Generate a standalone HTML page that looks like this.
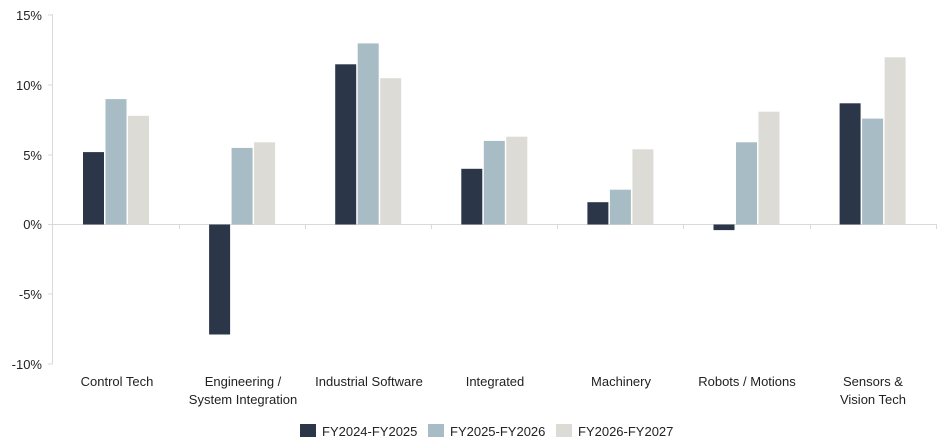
<!DOCTYPE html>
<html><head><meta charset="utf-8"><style>
html,body{margin:0;padding:0;background:#fff;}
svg{display:block;font-family:"Liberation Sans",Arial,sans-serif;}
</style></head><body>
<svg width="945" height="448" viewBox="0 0 945 448" xmlns="http://www.w3.org/2000/svg">
<g font-size="13" fill="#222" text-anchor="end">
<text x="42" y="20">15%</text>
<text x="42" y="90">10%</text>
<text x="42" y="160">5%</text>
<text x="42" y="229">0%</text>
<text x="42" y="299">-5%</text>
<text x="42" y="369">-10%</text>
</g>
<line x1="52.5" y1="14" x2="52.5" y2="364" stroke="#d9d9d9" stroke-width="1"/>
<g stroke="#d9d9d9" stroke-width="1">
<line x1="48" y1="15" x2="52.5" y2="15"/>
<line x1="48" y1="85" x2="52.5" y2="85"/>
<line x1="48" y1="155" x2="52.5" y2="155"/>
<line x1="48" y1="224.5" x2="52.5" y2="224.5"/>
<line x1="48" y1="294" x2="52.5" y2="294"/>
<line x1="48" y1="364" x2="52.5" y2="364"/>
<line x1="52.5" y1="224.5" x2="937" y2="224.5"/>
<line x1="179.5" y1="224.5" x2="179.5" y2="229"/>
<line x1="305.5" y1="224.5" x2="305.5" y2="229"/>
<line x1="431.5" y1="224.5" x2="431.5" y2="229"/>
<line x1="557.5" y1="224.5" x2="557.5" y2="229"/>
<line x1="683.5" y1="224.5" x2="683.5" y2="229"/>
<line x1="810.5" y1="224.5" x2="810.5" y2="229"/>
<line x1="936.5" y1="224.5" x2="936.5" y2="229"/>
</g>
<g fill="#2b3649">
<rect x="83.0" y="152.1" width="21" height="72.4"/>
<rect x="209.1" y="224.5" width="21" height="110.0"/>
<rect x="335.2" y="64.3" width="21" height="160.2"/>
<rect x="461.3" y="168.8" width="21" height="55.7"/>
<rect x="587.4" y="202.2" width="21" height="22.3"/>
<rect x="713.5" y="224.5" width="21" height="5.6"/>
<rect x="839.6" y="103.3" width="21" height="121.2"/>
</g>
<g fill="#a7bcc5">
<rect x="105.5" y="99.1" width="21" height="125.4"/>
<rect x="231.6" y="147.9" width="21" height="76.6"/>
<rect x="357.7" y="43.4" width="21" height="181.1"/>
<rect x="483.8" y="140.9" width="21" height="83.6"/>
<rect x="609.9" y="189.7" width="21" height="34.8"/>
<rect x="736.0" y="142.3" width="21" height="82.2"/>
<rect x="862.1" y="118.6" width="21" height="105.9"/>
</g>
<g fill="#dcdbd5">
<rect x="128.0" y="115.8" width="21" height="108.7"/>
<rect x="254.1" y="142.3" width="21" height="82.2"/>
<rect x="380.2" y="78.2" width="21" height="146.3"/>
<rect x="506.3" y="136.7" width="21" height="87.8"/>
<rect x="632.4" y="149.3" width="21" height="75.2"/>
<rect x="758.5" y="111.7" width="21" height="112.8"/>
<rect x="884.6" y="57.3" width="21" height="167.2"/>
</g>
<g font-size="13" fill="#222" text-anchor="middle">
<text x="117" y="386">Control Tech</text>
<text x="243" y="386">Engineering /</text>
<text x="243" y="404">System Integration</text>
<text x="369" y="386">Industrial Software</text>
<text x="495" y="386">Integrated</text>
<text x="621" y="386">Machinery</text>
<text x="747" y="386">Robots / Motions</text>
<text x="873" y="386">Sensors &amp;</text>
<text x="873" y="404">Vision Tech</text>
</g>
<rect x="300" y="424" width="16" height="13" fill="#2b3649"/>
<rect x="428" y="424" width="16" height="13" fill="#a7bcc5"/>
<rect x="556" y="424" width="16" height="13" fill="#dcdbd5"/>
<g font-size="13" fill="#222">
<text x="322" y="436">FY2024-FY2025</text>
<text x="450" y="436">FY2025-FY2026</text>
<text x="578" y="436">FY2026-FY2027</text>
</g>
</svg>
</body></html>
